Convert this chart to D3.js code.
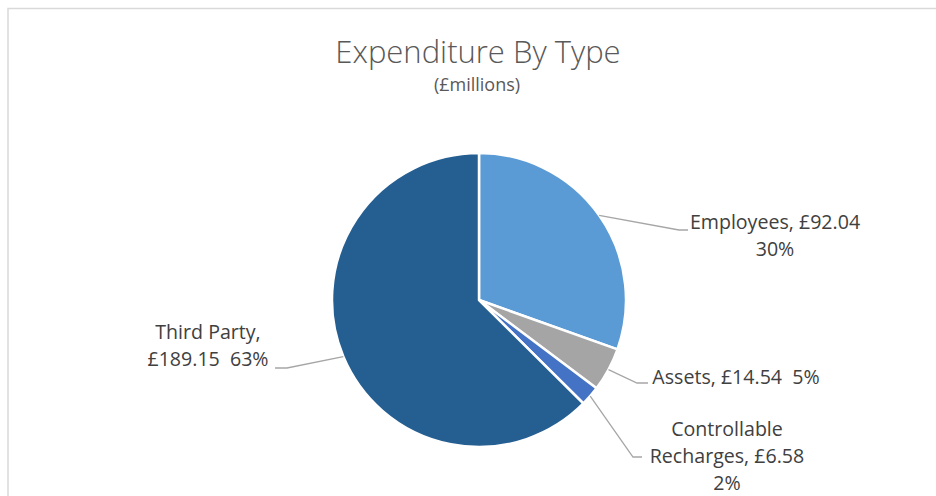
<!DOCTYPE html>
<html>
<head>
<meta charset="utf-8">
<script src="https://cdn.jsdelivr.net/npm/d3@7"></script>
<style>
  body { margin: 0; background: #fff; }
  svg { display: block; }
  text { font-family: "Open Sans", "Noto Sans", sans-serif; white-space: pre; }
</style>
</head>
<body>
<div id="chart"></div>
<script>
// data (£millions)
const categories = ["Employees", "Assets", "Controllable Recharges", "Third Party"]
const values = [92.04, 14.54, 6.58, 189.15]
const percents = ["30%", "5%", "2%", "63%"]
const colors = ["#5b9bd5", "#a5a5a5", "#4472c4", "#255e91"]

// label text lines, the way the chart wraps them
const labelLines = [
    ["Employees, £92.04", "30%"],
    ["Assets, £14.54  5%"],
    ["Controllable", "Recharges, £6.58", "2%"],
    ["Third Party,", "£189.15  63%"]
]

const width = 936, height = 496
const cx = 479, cy = 300, radius = 147

// where each label box sits (relative to pie centre) and where its leader bends
const labelLayout = [
    { dx: 296, dy: -71, anchor: "middle", elbow: [200, -70], end: [209, -70] },
    { dx: 257, dy: 84, anchor: "middle", elbow: [158, 83], end: [169, 83] },
    { dx: 248, dy: 136, anchor: "middle", elbow: [154, 157], end: [163, 157] },
    { dx: -271, dy: 39, anchor: "middle", elbow: [-192, 68], end: [-204, 68] }
]

const svg = d3.select("#chart")
    .append("svg")
    .attr("width", width)
    .attr("height", height)

// chart area border
svg.append("rect")
    .attr("x", 8)
    .attr("y", 8.5)
    .attr("width", 1000)
    .attr("height", 1000)
    .style("fill", "none")
    .style("stroke", "#d9d9d9")
    .style("stroke-width", 1.5)

// title
svg.append("text")
    .attr("x", 478)
    .attr("y", 63)
    .attr("text-anchor", "middle")
    .style("font-size", "31px")
    .style("font-weight", 300)
    .style("fill", "#595959")
    .text("Expenditure By Type")

svg.append("text")
    .attr("x", 477)
    .attr("y", 91)
    .attr("text-anchor", "middle")
    .style("font-size", "18px")
    .style("fill", "#595959")
    .text("(£millions)")

const pie = d3.pie().sort(null).value(d => d)
const arcs = pie(values)

const arc = d3.arc().innerRadius(0).outerRadius(radius)

const g = svg.append("g")
    .attr("transform", "translate(" + cx + "," + cy + ")")

g.selectAll("path.slice")
    .data(arcs)
    .enter().append("path")
    .attr("class", "slice")
    .attr("d", arc)
    .style("fill", (d, i) => colors[i])
    .style("stroke", "#fff")
    .style("stroke-width", 2.5)
    .style("stroke-linejoin", "round")

// leader lines: from the slice edge at its mid angle to the label
g.selectAll("path.leader")
    .data(arcs)
    .enter().append("path")
    .attr("class", "leader")
    .attr("d", (d, i) => {
        const a = (d.startAngle + d.endAngle) / 2
        const p0 = [radius * Math.sin(a), -radius * Math.cos(a)]
        const L = labelLayout[i]
        return d3.line()([p0, L.elbow, L.end])
    })
    .style("fill", "none")
    .style("stroke", "#a6a6a6")
    .style("stroke-width", 1.3)

// labels
const lineH = 27
g.selectAll("text.label")
    .data(arcs)
    .enter().append("text")
    .attr("class", "label")
    .attr("text-anchor", (d, i) => labelLayout[i].anchor)
    .style("font-size", "19.6px")
    .style("fill", "#404040")
    .each(function (d, i) {
        const L = labelLayout[i]
        const lines = labelLines[i]
        d3.select(this).selectAll("tspan")
            .data(lines)
            .enter().append("tspan")
            .attr("x", L.dx)
            .attr("y", (t, j) => L.dy + j * lineH)
            .text(t => t)
    })
</script>
</body>
</html>
